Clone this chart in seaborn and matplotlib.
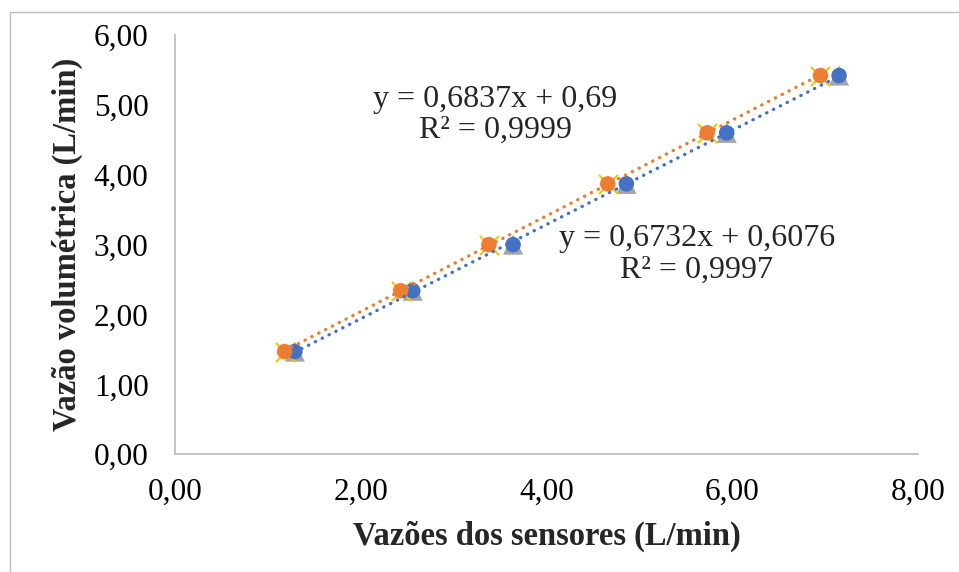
import numpy as np
import matplotlib.pyplot as plt
import seaborn as sns
import pandas as pd
from matplotlib.patches import Rectangle
from matplotlib.ticker import FuncFormatter

# vazão volumétrica de referência (L/min)
vazao_vol = [1.47, 2.34, 3.00, 3.87, 4.60, 5.42]
# leituras dos sensores (L/min)
sensor_azul = [1.29, 2.56, 3.64, 4.86, 5.94, 7.15]
sensor_laranja = [1.18, 2.43, 3.38, 4.66, 5.73, 6.95]

eq_azul = "y = 0,6732x + 0,6076\nR² = 0,9997"
eq_laranja = "y = 0,6837x + 0,69\nR² = 0,9999"

xticks = [0, 2, 4, 6, 8]
yticks = [0, 1, 2, 3, 4, 5, 6]

azul = "#4472C4"
laranja = "#ED7D31"
cinza = "#A5A5A5"
amarelo = "#FFC000"

df = pd.DataFrame({"vol": vazao_vol, "s1": sensor_azul, "s2": sensor_laranja})

sns.set_style("white")
plt.rcParams["font.family"] = ["Liberation Serif", "DejaVu Serif"]

fig = plt.figure(figsize=(9.59, 5.72), dpi=100)
ax = fig.add_axes([175 / 959, 1 - 454.3 / 572, (918 - 175) / 959, (454.3 - 35) / 572])

# marcadores de fundo
sns.scatterplot(data=df, x="s1", y="vol", marker="^", s=210, color=cinza,
                edgecolor="none", ax=ax, zorder=2)
sns.scatterplot(data=df, x="s2", y="vol", marker="x", s=190, color=amarelo,
                linewidth=1.5, ax=ax, zorder=2)
sns.scatterplot(data=df, x="s1", y="vol", marker="o", s=125, color=azul,
                edgecolor="none", ax=ax, zorder=3)
sns.scatterplot(data=df, x="s2", y="vol", marker="o", s=125, color=laranja,
                edgecolor="none", ax=ax, zorder=4)

# linhas de tendência
for col, c in [("s1", azul), ("s2", laranja)]:
    sns.regplot(data=df, x=col, y="vol", scatter=False, ci=None, ax=ax,
                line_kws=dict(color=c, lw=2.4, linestyle=(0, (0.1, 2.2)),
                              dash_capstyle="round", zorder=5))

ax.text(3.45, 4.86, eq_laranja, ha="center", va="center", fontsize=23,
        linespacing=1.1)
ax.text(5.62, 2.86, eq_azul, ha="center", va="center", fontsize=23,
        linespacing=1.1)

ax.set_xlim(0, 8)
ax.set_ylim(0, 6)
ax.set_xticks(xticks)
ax.set_yticks(yticks)
fmt = FuncFormatter(lambda v, p: f"{v:.2f}".replace(".", ","))
ax.xaxis.set_major_formatter(fmt)
ax.yaxis.set_major_formatter(fmt)
ax.tick_params(labelsize=22.5, length=0, colors="black")
ax.tick_params(axis="x", pad=17)
ax.tick_params(axis="y", pad=19)

for s in ["top", "right"]:
    ax.spines[s].set_visible(False)
for s in ["left", "bottom"]:
    ax.spines[s].set_color("#BFBFBF")
    ax.spines[s].set_linewidth(1.3)

ax.set_xlabel("Vazões dos sensores (L/min)", fontsize=23.5, fontweight="bold",
              labelpad=10)
ax.set_ylabel("Vazão volumétrica (L/min)", fontsize=23.5, fontweight="bold",
              labelpad=8)

fig.patches.append(Rectangle((10 / 959, -0.1), 1.2, 1.1 - 12 / 572,
                             transform=fig.transFigure, fill=False,
                             edgecolor="#BFBFBF", lw=1))

plt.savefig("out.png", dpi=100)
